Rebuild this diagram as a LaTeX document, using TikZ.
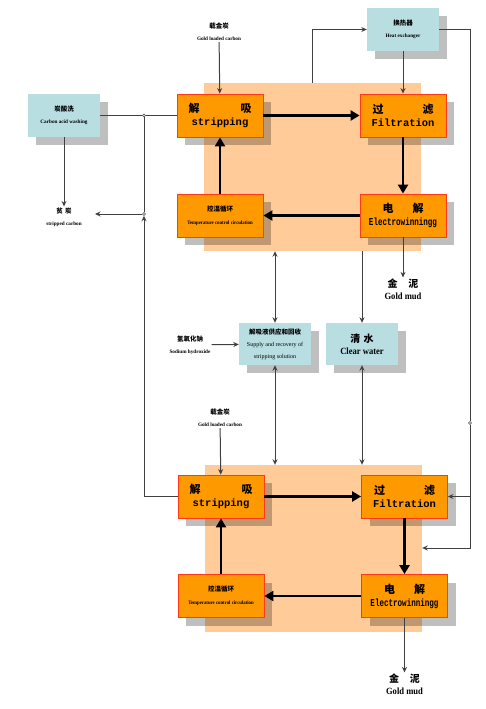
\documentclass[tikz,border=0pt]{standalone}
\usepackage{fontspec}
\setmainfont{Liberation Serif}
\newfontfamily\cjkfam{Noto Sans CJK SC}
\newfontfamily\monofam{Liberation Mono}
\usetikzlibrary{arrows.meta,shadows}
\definecolor{peach}{HTML}{FFCC99}
\definecolor{orangef}{HTML}{FF9900}
\definecolor{oborder}{HTML}{FF3A1A}
\definecolor{lblue}{HTML}{B8DEE1}
\definecolor{darkline}{HTML}{404040}
\newcommand\cjkbx{\cjkfam\bfseries\fontsize{11}{13}\selectfont}
\newcommand\monobx{\monofam\bfseries\fontsize{10.5}{12}\selectfont}
\newcommand\cjksm{\cjkfam\bfseries\fontsize{6.5}{7}\selectfont}
\newcommand\ensm{\bfseries\fontsize{5.2}{6}\selectfont}
\newcommand\cjkmd{\cjkfam\bfseries\fontsize{10}{11}\selectfont}
\newcommand\enmd{\bfseries\fontsize{9.5}{11}\selectfont}
\tikzset{
  panel/.style={fill=peach,draw=none,inner sep=0pt},
  shad/.style={drop shadow={shadow xshift=8pt,shadow yshift=-8pt,fill=black,opacity=0.25}},
  obox/.style={shad,draw=oborder,fill=orangef,line width=0.8pt,minimum width=86pt,minimum height=43pt,inner sep=0pt,align=center},
  bbox/.style={shad,fill=lblue,draw=none,minimum width=72pt,minimum height=43pt,inner sep=0pt,align=center},
  lbl/.style={inner sep=1pt,align=center},
  thinl/.style={draw=darkline,line width=1pt},
  tarrow/.style={thinl,-{Stealth[length=5.5pt,width=5pt]}},
  darrow/.style={thinl,{Stealth[length=5.5pt,width=5pt]}-{Stealth[length=5.5pt,width=5pt]}},
  bigarrow/.style={draw=black,line width=2.8pt,-{Triangle[length=9pt,width=10pt]}},
  junc/.style={circle,draw=darkline,fill=white,line width=0.5pt,inner sep=0pt,minimum size=3pt}
}
\begin{document}
\begin{tikzpicture}[x=1pt,y=-1pt]
\useasboundingbox[fill=white] (0,0) rectangle (486,709);
% panels
\node[panel,minimum width=217pt,minimum height=168pt] (pan1) at (312.5,167) {};
\node[panel,minimum width=217pt,minimum height=167pt] (pan2) at (313.5,548.5) {};
% top unit
\node[obox] (strip1) at (220,115.5) {{\cjkbx\makebox[63pt]{解\hfill 吸}}\\[1pt]{\monobx stripping}};
\node[obox] (filt1) at (403,115.5) {{\cjkbx\makebox[61pt]{过\hfill 滤}}\\[1pt]{\monobx Filtration}};
\node[obox] (temp1) at (220,215.5) {{\cjksm 控温循环}\\[1pt]{\ensm\scalebox{0.92}[1]{Temperature control circulation}}};
\node[obox] (elec1) at (403,215.5) {{\cjkbx\makebox[41pt]{电\hfill 解}}\\[1pt]{\monobx\scalebox{0.72}[1]{Electrowinningg}}};
% bottom unit
\node[obox] (strip2) at (221,496.5) {{\cjkbx\makebox[63pt]{解\hfill 吸}}\\[1pt]{\monobx stripping}};
\node[obox] (filt2) at (404.5,496.5) {{\cjkbx\makebox[61pt]{过\hfill 滤}}\\[1pt]{\monobx Filtration}};
\node[obox] (temp2) at (221,596) {{\cjksm 控温循环}\\[1pt]{\ensm\scalebox{0.92}[1]{Temperature control circulation}}};
\node[obox] (elec2) at (404.5,596) {{\cjkbx\makebox[41pt]{电\hfill 解}}\\[1pt]{\monobx\scalebox{0.72}[1]{Electrowinningg}}};
% blue boxes
\node[bbox] (wash) at (64,115.5) {{\cjksm 炭酸洗}\\[0pt]{\ensm Carbon acid washing}};
\node[bbox] (hx) at (403,29.5) {{\cjksm 换热器}\\[0pt]{\ensm Heat exchanger}};
\node[bbox,minimum height=42pt] (supply) at (275,344) {{\cjksm 解吸液供应和回收}\\[0pt]{\fontsize{6}{8}\selectfont Supply and recovery of}\\{\fontsize{6}{8}\selectfont stripping solution}};
\node[bbox,minimum height=42pt] (water) at (362,344) {{\cjkmd 清\,\,水}\\[0pt]{\enmd\scalebox{0.9}[1]{Clear water}}};
% labels
\node[lbl] (glc1) at (219,32) {{\cjksm 载金炭}\\[0pt]{\ensm Gold loaded carbon}};
\node[lbl] (glc2) at (220,418) {{\cjksm 载金炭}\\[0pt]{\ensm Gold loaded carbon}};
\node[lbl] (strc) at (64,217) {{\cjksm 贫\,\,炭}\\[0pt]{\ensm stripped carbon}};
\node[lbl] (naoh) at (190,345) {{\cjksm 氢氧化钠}\\[0pt]{\ensm Sodium hydroxide}};
\node[lbl] (gold1) at (403,289) {{\cjkmd\makebox[31pt]{金\hfill 泥}}\\[0pt]{\enmd\scalebox{0.9}[1]{Gold mud}}};
\node[lbl] (gold2) at (404.5,684) {{\cjkmd\makebox[31pt]{金\hfill 泥}}\\[0pt]{\enmd\scalebox{0.9}[1]{Gold mud}}};
% big loop arrows
\draw[bigarrow] (strip1) -- (filt1);
\draw[bigarrow] (filt1) -- (elec1);
\draw[bigarrow] (elec1) -- (temp1);
\draw[bigarrow] (temp1) -- (strip1);
\draw[bigarrow] (strip2) -- (filt2);
\draw[bigarrow] (filt2) -- (elec2);
\draw[bigarrow] (elec2) -- (temp2);
\draw[bigarrow] (temp2) -- (strip2);
% junctions
\node[junc] (j1) at (144,115.5) {};
\node[junc] (j2) at (144,214) {};
\node[junc] (j3) at (470,423) {};
\coordinate (scend) at (95,214);
\coordinate (r1) at (470,496.5);
\coordinate (r2) at (470,548);
% thin connectors
\draw[tarrow] (glc1) -- (strip1);
\draw[tarrow] (glc2) -- (strip2);
\draw[tarrow] (wash) -- (wash |- strc.north);
\draw[thinl] (wash) -- (j1) -- (strip1);
\draw[thinl] (j1) -- (j2);
\draw[tarrow] (strip2.west) -| (j2);
\draw[tarrow] (j2) -- (scend);
\draw[tarrow] (elec1) -- (gold1);
\draw[tarrow] (elec2) -- (gold2);
\draw[tarrow] (naoh) -- (supply);
\draw[tarrow] (pan1.north -| 312,0) |- (hx.west);
\draw[tarrow] (hx) -- (filt1);
\draw[thinl] (hx.east) -| (j3);
\draw[tarrow] (j3) |- (pan2.east |- r2);
\draw[tarrow] (r1) -- (filt2.east);
\draw[darrow] (supply.north |- pan1.south) -- (supply.north);
\draw[darrow] (supply.south) -- (supply.south |- pan2.north);
\draw[tarrow] (pan1.south -| water.north) -- (water.north);
\draw[darrow] (water.south) -- (water.south |- pan2.north);
\end{tikzpicture}
\end{document}
